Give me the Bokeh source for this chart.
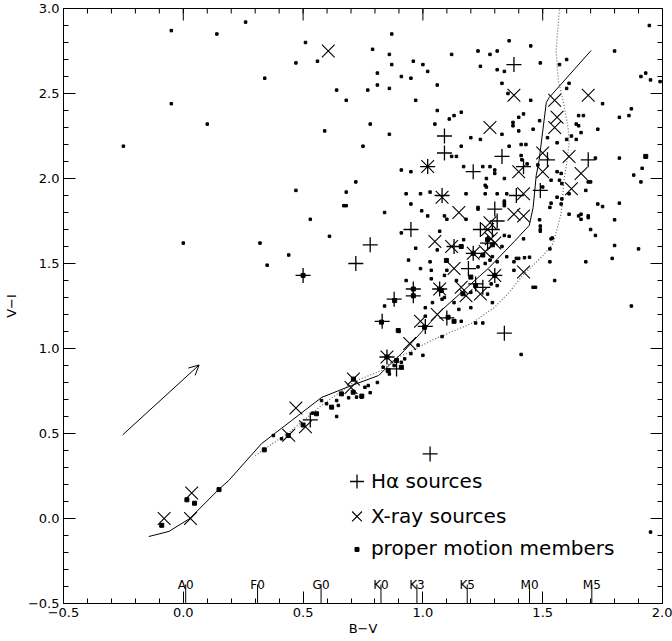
from bokeh.plotting import figure
from bokeh.models import FixedTicker, Arrow, OpenHead
from bokeh.embed import file_html
from bokeh.resources import INLINE
from bokeh.core.properties import value

FONT = "DejaVu Sans"

# ---------------- axes / ticks ----------------
x_ticks = [-0.5, 0.0, 0.5, 1.0, 1.5, 2.0]
y_ticks = [-0.5, 0.0, 0.5, 1.0, 1.5, 2.0, 2.5, 3.0]
x_minor = [round(-0.5 + 0.1 * i, 1) for i in range(26)]
y_minor = [round(-0.5 + 0.1 * i, 1) for i in range(36)]
x_tick_labels = ["\u22120.5", "0.0", "0.5", "1.0", "1.5", "2.0"]
y_tick_labels = ["\u22120.5", "0.0", "0.5", "1.0", "1.5", "2.0", "2.5", "3.0"]

# ---------------- spectral types ----------------
sp_types = ["A0", "F0", "G0", "K0", "K3", "K5", "M0", "M5"]
sp_bv = [0.01, 0.31, 0.575, 0.825, 0.975, 1.185, 1.445, 1.705]

# ---------------- sequences ----------------
seq_bv = [-0.144, -0.060, 0.027, 0.148, 0.190, 0.327, 0.452, 0.577, 0.702, 0.815,
          0.923, 1.077, 1.273, 1.381, 1.444, 1.460, 1.473, 1.485, 1.515, 1.527, 1.702]
seq_vi = [-0.106, -0.076, 0.0, 0.171, 0.224, 0.441, 0.576, 0.712, 0.782, 0.841,
          0.988, 1.224, 1.471, 1.629, 1.724, 1.829, 2.018, 2.106, 2.447, 2.476, 2.753]

dot_bv = [0.30, 0.452, 0.577, 0.715, 0.827, 0.890, 0.940, 1.035, 1.202, 1.298, 1.356,
          1.423, 1.494, 1.544, 1.577, 1.590, 1.598, 1.610, 1.606, 1.585, 1.565, 1.556, 1.570]
dot_vi = [0.37, 0.518, 0.665, 0.806, 0.871, 0.947, 0.976, 1.047, 1.147, 1.241, 1.324,
          1.441, 1.535, 1.618, 1.794, 2.006, 2.065, 2.206, 2.300, 2.459, 2.576, 2.753, 3.0]

# ---------------- reddening vector ----------------
redd_start = [-0.253, 0.492]
redd_end = [0.066, 0.903]

# ---------------- field stars (small dots) ----------------
field_bv = [-0.05, 0.14, 0.26, 0.51, 0.47, 0.56, 0.34, 0.64, 0.68, -0.05, 0.10, 0.59, -0.25,
            0.72, 0.47, 0.68, 0.67, 0.68, 0.53, 0.61, 0.00, 0.32, 0.44, 0.35,
            0.87, 0.79, 0.86, 0.87, 1.12, 0.96, 1.00, 1.02, 0.81, 0.91, 0.95, 0.77, 0.81, 0.86,
            1.06, 0.97, 1.36, 1.45, 1.23, 1.28, 1.31, 1.24, 1.31, 1.34, 1.49, 1.60, 1.57, 1.61,
            1.60, 1.33, 1.355, 1.45, 1.75, 1.80, 1.945, 1.93, 1.91, 1.95, 1.99, 1.87, 1.82, 1.86,
            1.06, 1.11, 1.13, 1.16, 0.78, 1.05, 0.86, 0.75, 1.20, 1.24, 1.33, 1.16, 1.376, 1.376,
            1.40, 1.42, 1.46, 1.36, 1.41, 1.43, 1.65, 1.67, 1.64, 1.65, 1.73, 1.62, 1.60, 1.64,
            1.72, 1.82, 1.88, 1.91, 1.915, 0.95, 0.91, 1.17, 1.25, 1.30, 1.30, 1.265, 0.93, 0.99,
            1.03, 1.18, 1.31, 1.56, 1.58, 1.69, 1.70, 1.68, 1.56,
            1.487, 1.40, 1.66, 1.52, 1.56, 1.12, 1.14, 1.28, 1.41, 1.413, 1.435, 1.48, 1.26, 1.34,
            1.535, 1.577, 1.57, 1.50, 1.26, 1.35, 1.61, 1.535, 1.577, 1.34, 1.34, 1.23, 1.82,
            1.73, 1.75, 1.61, 1.66, 1.66, 1.69, 1.80, 1.487, 1.49, 1.70, 1.72, 1.535, 1.42, 1.34,
            1.80, 1.90, 1.68, 1.79, 1.445, 1.424, 1.53, 1.87, 1.95,
            0.84, 0.95, 1.02, 0.995, 1.23, 1.265, 1.34, 1.34, 1.10, 1.09, 1.18, 0.91, 1.07, 0.97,
            0.94, 1.03, 1.035, 1.10, 1.09, 1.29, 1.31, 1.26, 1.35, 1.38, 1.39, 1.40, 1.38, 1.46,
            1.47, 1.55, 1.53, 1.54, 1.49, 1.49, 1.53, 1.58, 1.65, 1.69, 1.035, 1.07, 1.09, 1.285,
            1.31, 1.27, 1.08, 1.13, 1.04, 0.84, 1.01, 1.01, 1.16, 1.13, 1.20, 1.29, 1.22, 1.25,
            1.15, 0.90, 1.08, 1.41,
            0.577, 0.598, 0.64, 0.647, 0.723, 0.744, 0.758, 0.772, 0.834, 0.91, 0.924, 0.376,
            0.41, 0.64, 0.78, 0.95, 0.98, 0.86, 0.54, 0.69, 0.81, 0.88, 1.00,
            1.17, 1.23, 1.33, 1.36, 1.14, 1.20, 1.28, 1.06, 0.93, 0.99]
field_vi = [2.87, 2.85, 2.92, 2.80, 2.68, 2.69, 2.59, 2.52, 2.46, 2.44, 2.32, 2.28, 2.19,
            1.98, 1.93, 1.92, 1.84, 1.84, 1.76, 1.66, 1.62, 1.62, 1.55, 1.49,
            2.85, 2.76, 2.73, 2.67, 2.73, 2.69, 2.67, 2.63, 2.62, 2.60, 2.59, 2.52, 2.55, 2.53,
            2.55, 2.46, 2.81, 2.78, 2.75, 2.73, 2.75, 2.66, 2.64, 2.63, 2.68, 2.70, 2.67, 2.56,
            2.53, 2.56, 2.50, 2.46, 2.44, 2.75, 2.90, 2.62, 2.60, 2.58, 2.57, 2.41, 2.36, 2.37,
            2.40, 2.35, 2.37, 2.39, 2.32, 2.32, 2.26, 2.19, 2.24, 2.23, 2.26, 2.19, 2.33, 2.31,
            2.36, 2.38, 2.29, 2.19, 2.20, 2.20, 2.37, 2.37, 2.32, 2.31, 2.29, 2.25, 2.23, 2.23,
            2.12, 2.12, 2.02, 1.98, 2.06, 2.04, 2.05, 2.07, 2.07, 2.05, 2.03, 2.00, 1.91, 1.91,
            1.92, 1.91, 1.91, 2.04, 1.97, 1.98, 1.98, 1.93, 1.89,
            2.34, 2.28, 2.27, 2.24, 2.21, 2.13, 2.13, 2.07, 2.135, 2.11, 2.086, 2.08, 1.96, 2.00,
            1.99, 2.03, 1.99, 1.95, 1.91, 1.91, 1.91, 1.855, 1.85, 1.867, 1.85, 1.83, 1.855,
            1.85, 1.835, 1.79, 1.79, 1.76, 1.77, 1.757, 1.757, 1.70, 1.70, 1.665, 1.645, 1.645, 1.665,
            1.606, 1.586, 1.51, 1.53, 1.537, 1.534, 1.586, 1.25, -0.08,
            1.80, 1.85, 1.78, 1.81, 1.82, 1.95, 1.86, 1.84, 1.76, 1.78, 1.76, 1.68, 1.69, 1.59,
            1.52, 1.51, 1.46, 1.46, 1.43, 1.54, 1.51, 1.50, 1.54, 1.51, 1.53, 1.53, 1.46, 1.36,
            1.36, 1.40, 1.51, 1.65, 1.72, 1.69, 1.83, 1.88, 1.78, 1.78, 1.41, 1.35, 1.30, 1.38,
            1.37, 1.32, 1.29, 1.27, 1.27, 1.25, 1.24, 1.19, 1.16, 1.16, 1.24, 1.27, 1.15, 1.15,
            1.23, 1.10, 1.07, 0.965,
            0.694, 0.675, 0.694, 0.665, 0.714, 0.714, 0.772, 0.782, 0.89, 0.919, 0.939, 0.488,
            0.469, 0.60, 0.74, 0.97, 1.02, 0.85, 0.62, 0.71, 0.80, 0.90, 0.96,
            1.64, 1.48, 1.60, 1.66, 1.40, 1.33, 1.52, 1.58, 1.40, 1.47]

# ---------------- proper motion members ----------------
pm_bv = [-0.09, 0.015, 0.047, 0.149, 0.338, 0.438, 0.50, 0.556, 0.619, 0.66, 0.709, 0.745,
         0.855, 0.89, 0.91, 0.50, 0.827, 0.882, 0.897, 0.96, 0.96, 1.007, 1.105, 1.077,
         1.167, 1.098, 1.13, 1.20, 1.25, 1.27, 1.93, 0.85, 1.21, 0.71, 1.07, 1.30,
         1.29, 1.22, 1.16]
pm_vi = [-0.04, 0.11, 0.09, 0.17, 0.404, 0.488, 0.55, 0.616, 0.655, 0.733, 0.743, 0.72,
         0.871, 0.929, 0.89, 1.43, 1.155, 1.282, 1.106, 1.35, 1.31, 1.125, 1.184, 1.341,
         1.322, 1.518, 1.16, 1.42, 1.55, 1.64, 2.13, 0.95, 1.56, 0.82, 1.35, 1.43,
         1.61, 1.37, 1.60]

# ---------------- H-alpha sources ----------------
ha_bv = [0.50, 0.72, 0.78, 0.95, 0.96, 0.96, 0.88, 0.83, 0.89, 1.03, 1.34, 1.10, 1.01,
         1.19, 1.24, 1.30, 1.09, 1.09, 1.38, 1.21, 1.33, 1.52, 1.69, 1.42, 1.02, 1.08,
         1.39, 1.49, 0.85, 1.07, 1.13, 1.21, 1.30, 0.53, 1.27, 1.25,
         1.29, 1.31, 1.22]
ha_vi = [1.43, 1.50, 1.61, 1.70, 1.35, 1.31, 1.29, 1.16, 0.88, 0.38, 1.09, 1.18, 1.13,
         1.47, 1.70, 1.82, 2.25, 2.15, 2.67, 2.04, 2.13, 2.11, 2.11, 2.07, 2.07, 1.90,
         1.90, 1.93, 0.95, 1.35, 1.60, 1.56, 1.43, 0.58, 1.62, 1.36,
         1.70, 1.75, 1.38]

# ---------------- X-ray sources ----------------
xr_bv = [-0.08, 0.03, 0.035, 0.44, 0.47, 0.51, 0.70, 0.71, 0.85, 0.945, 0.99, 1.06, 1.07,
         1.16, 1.18, 1.13, 1.30, 1.42, 1.05, 1.12, 1.21, 1.285, 1.27, 1.28, 1.15, 1.08, 1.02,
         1.38, 1.42, 1.42, 1.40, 1.50, 1.50, 1.61, 1.66, 1.62, 1.28, 1.38, 1.55, 1.56, 1.55,
         1.69, 0.605, 1.24, 1.30, 1.26]
xr_vi = [0.00, 0.00, 0.15, 0.49, 0.65, 0.54, 0.77, 0.82, 0.95, 1.03, 1.16, 1.20, 1.35,
         1.36, 1.31, 1.47, 1.43, 1.45, 1.63, 1.60, 1.56, 1.645, 1.70, 1.74, 1.80, 1.89, 2.07,
         1.79, 1.78, 1.91, 2.04, 2.04, 2.15, 2.13, 2.03, 1.94, 2.30, 2.49, 2.46, 2.36, 2.30,
         2.49, 2.75, 1.32, 1.62, 1.57]

# ---------------- legend ----------------
legend_texts = ["H\u03b1 sources", "X-ray sources", "proper motion members"]

# ================= figure =================
p = figure(width=672, height=641, x_range=(-0.5, 2.0), y_range=(-0.5, 3.0),
           output_backend="svg", toolbar_location=None,
           min_border_left=62, min_border_right=10, min_border_top=8, min_border_bottom=38)
p.grid.visible = False
p.outline_line_color = "black"
p.outline_line_width = 1
p.background_fill_color = "white"
p.border_fill_color = "white"

for ax, ticks, minor, labels in [(p.xaxis[0], x_ticks, x_minor, x_tick_labels),
                                  (p.yaxis[0], y_ticks, y_minor, y_tick_labels)]:
    ax.ticker = FixedTicker(ticks=ticks, minor_ticks=minor)
    ax.major_tick_in = 12
    ax.major_tick_out = 0
    ax.minor_tick_in = 5
    ax.minor_tick_out = 0
    ax.axis_line_color = "black"
    ax.major_tick_line_color = "black"
    ax.minor_tick_line_color = "black"
    ax.major_label_text_font = FONT
    ax.major_label_text_font_size = "13px"
    ax.major_label_text_color = "black"
    ax.major_label_overrides = {float(t): l for t, l in zip(ticks, labels)}
    ax.axis_label_text_font = FONT
    ax.axis_label_text_font_size = "13px"
    ax.axis_label_text_font_style = "normal"
    ax.axis_label_text_color = "black"

p.xaxis[0].axis_label = "B\u2212V"
p.xaxis[0].major_label_standoff = 4
p.xaxis[0].axis_label_standoff = 1
p.yaxis[0].axis_label = "V\u2212I"
p.yaxis[0].major_label_standoff = 4
p.yaxis[0].axis_label_standoff = 6

# top / right tick marks (inward)
mx = 12 / 240.0
my = 12 / 170.0
nx = 5 / 240.0
ny = 5 / 170.0
p.segment(x0=x_ticks, y0=[3.0 - my] * len(x_ticks), x1=x_ticks, y1=[3.0] * len(x_ticks),
          line_color="black", line_width=1)
p.segment(x0=x_minor, y0=[3.0 - ny] * len(x_minor), x1=x_minor, y1=[3.0] * len(x_minor),
          line_color="black", line_width=1)
p.segment(x0=[2.0 - mx] * len(y_ticks), y0=y_ticks, x1=[2.0] * len(y_ticks), y1=y_ticks,
          line_color="black", line_width=1)
p.segment(x0=[2.0 - nx] * len(y_minor), y0=y_minor, x1=[2.0] * len(y_minor), y1=y_minor,
          line_color="black", line_width=1)

# spectral type markers
sp_len = 19 / 170.0
p.segment(x0=sp_bv, y0=[-0.5] * len(sp_bv), x1=sp_bv, y1=[-0.5 + sp_len] * len(sp_bv),
          line_color="black", line_width=1)
p.text(x=sp_bv, y=[-0.5 + sp_len] * len(sp_bv), text=sp_types, text_font=value(FONT),
       text_font_size="12px", text_align="center", text_baseline="alphabetic",
       text_color="black")

# sequences
p.line(dot_bv, dot_vi, line_color="#666666", line_width=1.2, line_dash="1 2")
p.line(seq_bv, seq_vi, line_color="black", line_width=1)

# reddening arrow
p.add_layout(Arrow(end=OpenHead(size=10, line_width=1, line_color="black"),
                   x_start=redd_start[0], y_start=redd_start[1],
                   x_end=redd_end[0], y_end=redd_end[1],
                   line_color="black", line_width=1))

# points
p.scatter(field_bv, field_vi, marker="square", size=2.5, color="black")
p.scatter(pm_bv, pm_vi, marker="square", size=4, color="black")
p.scatter(xr_bv, xr_vi, marker="x", size=18, line_color="black", line_width=1.1)
p.scatter(ha_bv, ha_vi, marker="cross", size=15, line_color="black", line_width=1.3)

# legend (drawn manually)
leg_mx = 0.725
leg_tx = 0.783
leg_my = [0.2176, 0.012, -0.182]
leg_ty = [0.223, 0.013, -0.174]
p.scatter([leg_mx], [leg_my[0]], marker="cross", size=14, line_color="black", line_width=1.3)
p.scatter([leg_mx], [leg_my[1]], marker="x", size=14, line_color="black", line_width=1.1)
p.scatter([leg_mx], [leg_my[2]], marker="square", size=4, color="black")
p.text(x=[leg_tx] * 3, y=leg_ty, text=legend_texts, text_font=value(FONT),
       text_font_size="20px", text_align="left", text_baseline="middle",
       text_color="black")

open("out.html", "w").write(file_html(p, INLINE))
